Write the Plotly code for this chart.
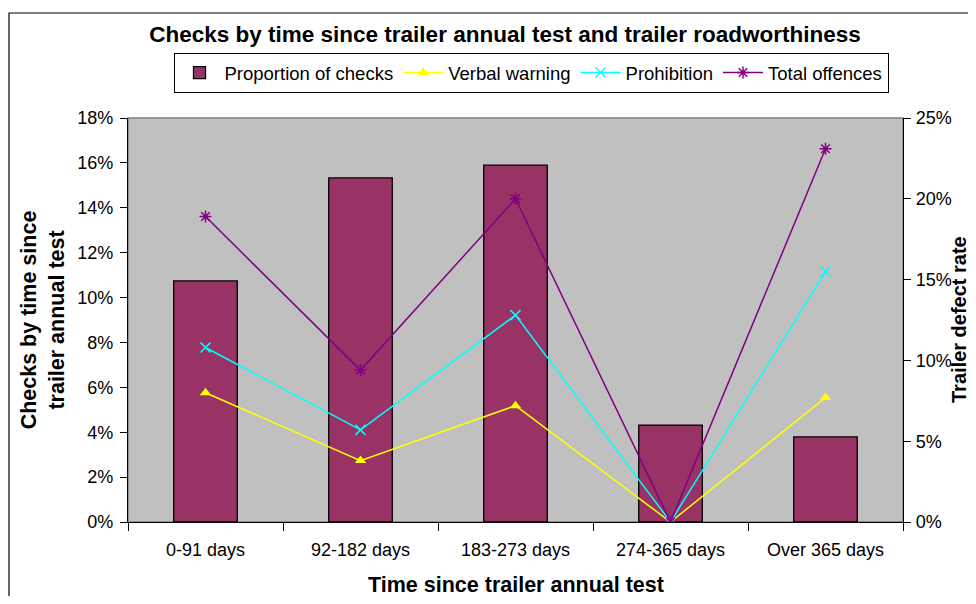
import plotly.graph_objects as go

categories = ["0-91 days", "92-182 days", "183-273 days", "274-365 days", "Over 365 days"]
proportion_checks = [10.74, 15.33, 15.9, 4.32, 3.79]
verbal_warning = [8.0, 3.8, 7.2, 0.0, 7.7]
prohibition = [10.8, 5.7, 12.8, 0.0, 15.5]
total_offences = [18.9, 9.4, 20.0, 0.0, 23.1]

FONT = "Liberation Sans, Arial, sans-serif"
W, H = 968, 588  # page body has an 8px margin
L, R, T, B = 120, 73, 110, 74
PW, PH = W - L - R, H - T - B

fig = go.Figure()
fig.add_trace(go.Bar(
    x=categories, y=proportion_checks, name="Proportion of checks",
    marker=dict(color="#993366", line=dict(color="black", width=1.3)),
    width=0.41, yaxis="y"))
fig.add_trace(go.Scatter(
    x=categories, y=verbal_warning, name="Verbal warning", yaxis="y2",
    mode="lines+markers", line=dict(color="#FFFF00", width=1.5),
    marker=dict(symbol="triangle-up", size=10, color="#FFFF00")))
fig.add_trace(go.Scatter(
    x=categories, y=prohibition, name="Prohibition", yaxis="y2",
    mode="lines+markers", line=dict(color="#00FFFF", width=1.5),
    marker=dict(symbol="x-thin-open", size=10, line=dict(color="#00FFFF", width=1.5))))
fig.add_trace(go.Scatter(
    x=categories, y=total_offences, name="Total offences", yaxis="y2",
    mode="lines+markers", line=dict(color="#800080", width=1.5),
    marker=dict(symbol="asterisk-open", size=10, line=dict(color="#800080", width=1.5))))

fig.update_layout(
    width=W, height=H,
    margin=dict(l=L, r=R, t=T, b=B, autoexpand=False),
    paper_bgcolor="white", plot_bgcolor="#C0C0C0",
    font=dict(family=FONT, size=18, color="black"),
    title=dict(text="<b>Checks by time since trailer annual test and trailer roadworthiness</b>",
               x=497/W, xref="container", xanchor="center",
               y=1-26/H, yref="container", yanchor="middle",
               font=dict(size=22.5, family=FONT)),
    legend=dict(orientation="h", xref="container", yref="container",
                x=523/W, xanchor="center", y=1-45/H, yanchor="top",
                bordercolor="black", borderwidth=1, bgcolor="white",
                font=dict(size=18.5), itemwidth=40, tracegroupgap=0),
    showlegend=True,
    xaxis=dict(type="category", showline=True, linecolor="black", linewidth=1.2,
               ticks="outside", ticklen=8, tickcolor="black", tickson="boundaries",
               showgrid=False, zeroline=False, ticklabelstandoff=11, automargin=False),
    yaxis=dict(range=[0, 18], dtick=2, ticksuffix="%", showline=True, linecolor="black",
               linewidth=1.2, ticks="outside", ticklen=7, tickcolor="black",
               showgrid=False, zeroline=False, ticklabelstandoff=3, automargin=False,
               title=dict(text="<b>Checks by time since<br>trailer annual test</b>", font=dict(size=21.5), standoff=6)),
    yaxis2=dict(range=[0, 25], dtick=5, ticksuffix="%", overlaying="y", side="right",
                showline=True, linecolor="black", linewidth=1.2, ticks="outside",
                ticklen=7, tickcolor="black", showgrid=False, zeroline=False,
                ticklabelstandoff=1, automargin=False),
    annotations=[
        dict(text="<b>Trailer defect rate</b>", xref="paper", yref="paper",
             x=1 + (951 - (W - R)) / PW, y=0.5, xanchor="center", yanchor="middle",
             textangle=-90, showarrow=False, font=dict(size=20)),
        dict(text="<b>Time since trailer annual test</b>", xref="paper", yref="paper",
             x=0.5, y=-(577 - (H - B)) / PH, xanchor="center", yanchor="middle",
             showarrow=False, font=dict(size=21.5)),
    ],
    shapes=[
        dict(type="rect", xref="paper", yref="paper", x0=0, x1=1, y0=0, y1=1,
             line=dict(color="#808080", width=1.5), layer="below"),
        dict(type="rect", xref="paper", yref="paper",
             x0=-(L-1)/PW, x1=1+(R+10)/PW, y0=-(B+10)/PH, y1=1+(T-5)/PH,
             line=dict(color="black", width=1.2), fillcolor="rgba(0,0,0,0)"),
    ],
)

fig.write_html("out.html")
